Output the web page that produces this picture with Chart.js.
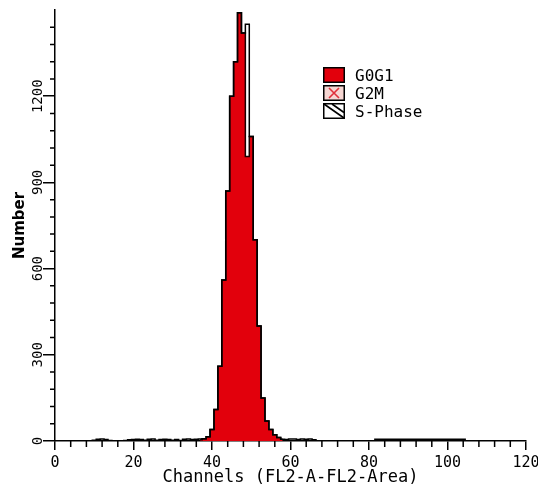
<!DOCTYPE html>
<html>
<head>
<meta charset="utf-8">
<title>Cell cycle histogram</title>
<script src="https://cdn.jsdelivr.net/npm/chart.js"></script>
<style>
  html, body { margin: 0; padding: 0; background: #fff; }
  #wrap { position: relative; width: 538px; height: 489px; }
  #legend { position: absolute; left: 323px; top: 66px; font-family: 'DejaVu Sans Mono', monospace; font-size: 16px; color: #000; }
  .item { display: flex; align-items: center; height: 18px; }
  .item svg { width: 22px; height: 16px; margin-right: 10px; }
</style>
</head>
<body>
<div id="wrap">
  <canvas id="c" width="538" height="489"></canvas>
  <div id="legend"></div>
</div>
<script>
// DATA
const channels = Array.from({ length: 121 }, (_, i) => i);
const rawCounts = [
  0, 0, 0, 0, 0, 0, 0, 0, 0, 0,
  3, 6, 7, 5, 2, 0, 0, 0, 2, 4,
  5, 6, 5, 3, 6, 7, 3, 5, 6, 5,
  3, 5, 2, 6, 7, 5, 6, 7,
  8, 15, 40, 110, 260, 560, 870, 1200, 1320, 1490, 1420, 1450, 1060, 700, 400, 150, 70, 40, 22, 12, 6,
  5, 7, 7, 5, 7, 6, 7, 4,
  0, 0, 0, 0, 0, 0, 0, 0, 0, 0, 0, 0, 0, 0, 0,
  6, 6, 6, 6, 6, 6, 6, 6, 6, 6, 6, 6, 6, 6, 6, 6, 6, 6, 6, 6, 6, 6, 6,
  0, 0, 0, 0, 0, 0, 0, 0, 0, 0, 0, 0, 0, 0, 0, 0
];
const g0g1Start = 37;
const g0g1Counts = [4, 8, 15, 40, 110, 260, 560, 870, 1200, 1320, 1490, 1420, 990, 1060, 700, 400, 150, 70, 40, 22, 12, 6];

const xMajor = [0, 20, 40, 60, 80, 100, 120];
const xMinor = [4, 8, 12, 16, 24, 28, 32, 36, 44, 48, 52, 56, 64, 68, 72, 76, 84, 88, 92, 96, 104, 108, 112, 116];
const yMajor = [0, 300, 600, 900, 1200];
const yTickLabels = ['0', '300', '600', '900', '1200'];
const yMinor = [60, 120, 180, 240, 360, 420, 480, 540, 660, 720, 780, 840, 960, 1020, 1080, 1140, 1260, 1320, 1380, 1440];

const legendItems = ['G0G1', 'G2M', 'S-Phase'];
const xTitle = 'Channels (FL2-A-FL2-Area)';
const yTitle = 'Number';

const MONO = "'DejaVu Sans Mono', monospace";
const RED = '#e2000c';

// legend (drawn in html, sits inside the plot)
const icons = [
  `<svg viewBox="0 0 22 16"><rect x="0.75" y="0.75" width="20.5" height="14.5" fill="${RED}" stroke="#000" stroke-width="1.5"/></svg>`,
  `<svg viewBox="0 0 22 16"><rect x="0.75" y="0.75" width="20.5" height="14.5" fill="#f6d6d2" stroke="#000" stroke-width="1.5"/><path d="M6 3 L16 13 M16 3 L6 13" stroke="#e0303a" stroke-width="1.6"/></svg>`,
  `<svg viewBox="0 0 22 16"><rect x="0.75" y="0.75" width="20.5" height="14.5" fill="#fff" stroke="#000" stroke-width="1.5"/><path d="M1 1 L21 15 M9 1 L21 9.5" stroke="#000" stroke-width="1.6"/></svg>`
];
document.getElementById('legend').innerHTML = legendItems
  .map((name, i) => `<div class="item">${icons[i]}<span>${name}</span></div>`).join('');

// minor ticks + rotated y tick labels
const axisExtras = {
  id: 'axisExtras',
  afterDraw(chart) {
    const { ctx, scales: { x, y } } = chart;
    ctx.save();
    ctx.strokeStyle = '#000';
    ctx.lineWidth = 1.5;
    ctx.beginPath();
    xMinor.forEach(v => {
      const px = x.getPixelForValue(v);
      ctx.moveTo(px, x.top);
      ctx.lineTo(px, x.top + 6);
    });
    yMinor.forEach(v => {
      const py = y.getPixelForValue(v);
      ctx.moveTo(y.right, py);
      ctx.lineTo(y.right - 5, py);
    });
    ctx.stroke();

    ctx.fillStyle = '#000';
    ctx.font = `14px ${MONO}`;
    ctx.textAlign = 'center';
    ctx.textBaseline = 'bottom';
    yMajor.forEach((v, i) => {
      ctx.save();
      ctx.translate(y.right - 10, y.getPixelForValue(v));
      ctx.rotate(-Math.PI / 2);
      ctx.fillText(yTickLabels[i], 0, 0);
      ctx.restore();
    });
    ctx.restore();
  }
};

new Chart(document.getElementById('c'), {
  type: 'line',
  data: {
    datasets: [
      {
        label: 'Data',
        data: channels.map(c => ({ x: c, y: rawCounts[c] })),
        stepped: 'middle',
        fill: false,
        borderColor: '#000',
        borderWidth: 1.5,
        pointRadius: 0
      },
      {
        label: 'G0G1',
        data: g0g1Counts.map((v, i) => ({ x: g0g1Start + i, y: v })),
        stepped: 'middle',
        fill: 'origin',
        backgroundColor: RED,
        borderColor: '#1a0000',
        borderWidth: 1.5,
        pointRadius: 0
      }
    ]
  },
  options: {
    responsive: false,
    animation: false,
    layout: { padding: { top: 10, right: 12, left: 0, bottom: 0 } },
    plugins: { legend: { display: false }, tooltip: { enabled: false } },
    scales: {
      x: {
        type: 'linear',
        min: 0,
        max: 120,
        afterBuildTicks: s => { s.ticks = xMajor.map(v => ({ value: v })); },
        afterFit: s => { s.height = 48; s.paddingLeft = 0; s.paddingRight = 0; },
        ticks: { color: '#000', padding: 4, maxRotation: 0, font: { family: MONO, size: 15 } },
        grid: { drawOnChartArea: false, drawTicks: true, tickLength: 9, color: '#000', lineWidth: 1.5 },
        border: { color: '#000', width: 1.5 },
        title: {
          display: true, text: xTitle, color: '#000',
          font: { family: MONO, size: 17, lineHeight: 1 },
          padding: { top: 0, bottom: 2.5 }
        }
      },
      y: {
        type: 'linear',
        min: 0,
        max: 1500,
        afterBuildTicks: s => { s.ticks = yMajor.map(v => ({ value: v })); },
        afterFit: s => { s.width = 55; },
        ticks: { display: false },
        grid: { drawOnChartArea: false, drawTicks: true, tickLength: 12, color: '#000', lineWidth: 1.5 },
        border: { color: '#000', width: 1.5 },
        title: {
          display: true, text: yTitle, color: '#000',
          font: { family: "'DejaVu Sans', sans-serif", size: 15, weight: 'bold', lineHeight: 1 },
          padding: { top: 13, bottom: 0 }
        }
      }
    }
  },
  plugins: [axisExtras]
});
</script>
</body>
</html>
